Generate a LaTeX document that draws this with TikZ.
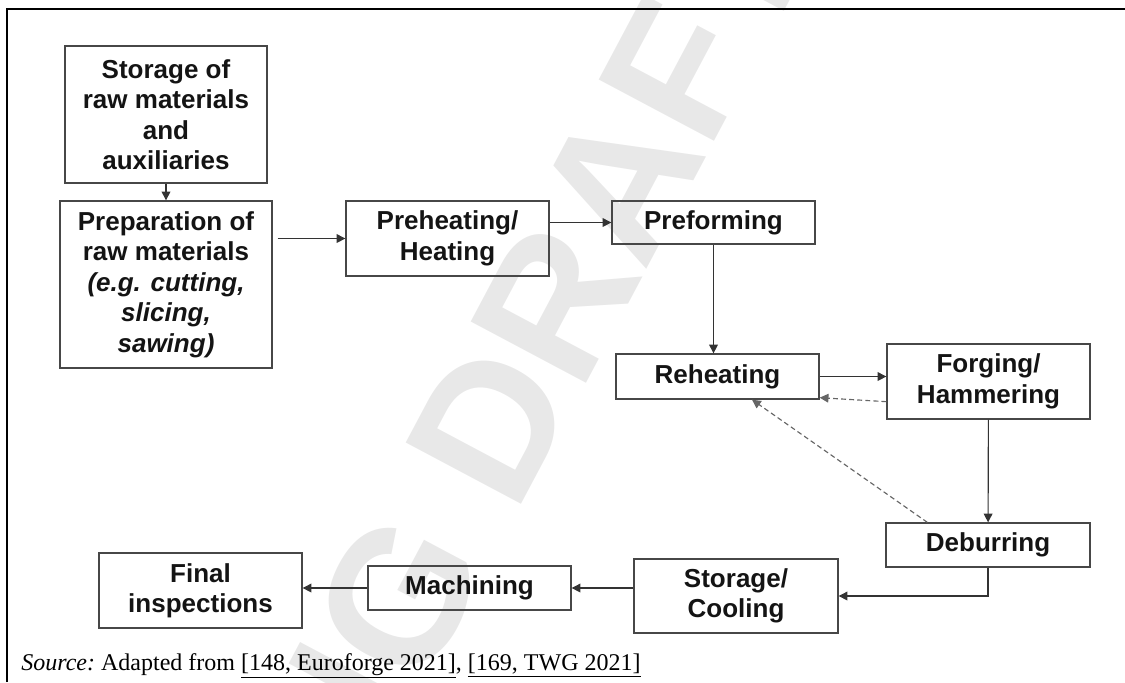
\documentclass[tikz,border=0pt]{standalone}
\usepackage{fontspec}
\setmainfont{Liberation Serif}
\setsansfont{Liberation Sans}
\usetikzlibrary{positioning, arrows, arrows.meta}

\begin{document}
\begin{tikzpicture}[
        >={Triangle[length=5pt, width=5pt]},
        box/.style={draw=black!72, line width=0.75pt, align=center, inner sep=0pt,
            text=black!92, font=\sffamily\bfseries\fontsize{14.8}{17.35}\selectfont},
        flow/.style={->, draw=black!80, line width=0.65pt},
        back/.style={->, draw=black!60, line width=0.65pt, dash pattern=on 2.8pt off 1.8pt}
    ]
            \useasboundingbox (0, 0) rectangle (22.5, -13.64);

            % watermark
            \begin{scope}
                \clip (0, 0) rectangle (22.5, -13.64);
                \node[rotate=62, inner sep=0pt, text=black!9,
                    font=\sffamily\bfseries\fontsize{108}{108}\selectfont] (draft) at (10.6, -7.0) {NG DRAFT};
            \end{scope}

            \draw [line width=1.4pt] (0.14, -13.64) -- (0.14, -0.18) -- (22.5, -0.18);

            \node[box, minimum width=4.04cm, minimum height=2.74cm] (storage) at (3.32, -2.29) {Storage of\\raw materials\\and\\auxiliaries};
            \node[box, minimum width=4.24cm, minimum height=3.34cm] (preparation) at (3.32, -5.69) {Preparation of\\raw materials\\\textit{(e.g. cutting,}\\\textit{slicing,}\\\textit{sawing)}};
            \node[box, minimum width=4.06cm, minimum height=1.5cm] (preheating) at (8.95, -4.77) {Preheating/\\Heating};
            \node[box, minimum width=4.06cm, minimum height=0.86cm] (preforming) at (14.27, -4.45) {Preforming};
            \node[box, minimum width=4.06cm, minimum height=0.9cm] (reheating) at (14.35, -7.53) {Reheating};
            \node[box, minimum width=4.06cm, minimum height=1.5cm] (forging) at (19.77, -7.63) {Forging/\\Hammering};
            \node[box, minimum width=4.08cm, minimum height=0.88cm] (deburring) at (19.76, -10.9) {Deburring};
            \node[box, minimum width=4.08cm, minimum height=1.48cm] (cooling) at (14.72, -11.92) {Storage/\\Cooling};
            \node[box, minimum width=4.06cm, minimum height=0.88cm] (machining) at (9.39, -11.76) {Machining};
            \node[box, minimum width=4.06cm, minimum height=1.5cm] (inspection) at (4.01, -11.81) {Final\\inspections};

            \node[anchor=base west, inner sep=0pt, font=\fontsize{13.66}{16}\selectfont\frenchspacing] (source) at (0.42, -13.4)
                {\textit{Source:} Adapted from \underline{[148, Euroforge 2021]}, \underline{[169, TWG 2021]}};

            \draw [flow] (storage) -- (preparation);
            \draw [flow, shorten <=0.1cm] (preparation.east |- preheating) -- (preheating);
            \draw [flow] (preheating.east |- preforming) -- (preforming);
            \draw [flow] (preforming) -- (preforming |- reheating.north);
            \draw [flow] (reheating) -- (reheating -| forging.west);
            \draw [back] ([yshift=0.36cm]forging.south west) -- ([yshift=0.04cm]reheating.south east);
            \draw [back] ([xshift=0.84cm]deburring.north west) -- ([xshift=0.69cm]reheating.south);
            \draw [flow] (forging) -- (deburring);
            \draw [flow] (deburring) |- (cooling);
            \draw [flow] (cooling.west |- machining) -- (machining);
            \draw [flow] (machining) -- (machining -| inspection.east);
        \end{tikzpicture}
\end{document}
